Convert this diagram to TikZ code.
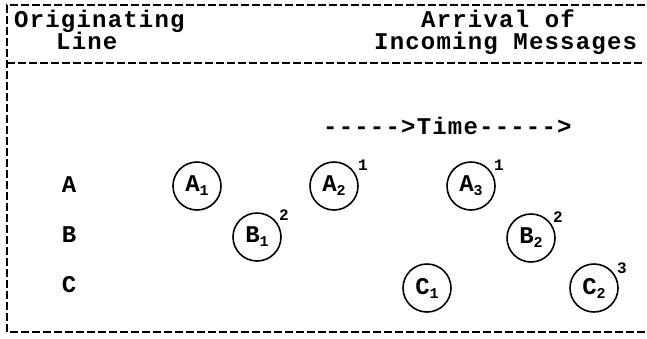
\documentclass[tikz,border=0pt]{standalone}
\usepackage{fontspec}
\setmonofont{Liberation Mono}[LetterSpace=5]
\newfontfamily\supfont{Liberation Mono}
\newcommand\msub[1]{\raisebox{-4pt}{\supfont\bfseries\fontsize{15}{15}\selectfont #1}}
\begin{document}
\begin{tikzpicture}[x=1pt,y=-1pt,
  font=\ttfamily\bfseries\fontsize{24}{24}\selectfont,
  frame/.style={line width=1.8pt, dash pattern=on 8pt off 3pt},
  msg/.style={circle, draw, line width=1.6pt, minimum size=48pt, inner sep=0pt},
  sup/.style={font=\supfont\bfseries\fontsize{16}{16}\selectfont, inner sep=0pt},
  txt/.style={inner sep=0pt, anchor=base west},
  lbl/.style={inner sep=0pt, anchor=base}]
\useasboundingbox (0,0) rectangle (647,338);
% frame
\draw[frame] (645,5) -- (7,5) -- (7,332) -- (645,332);
\draw[frame] (7,63) -- (645,63);
% header
\node[txt] (h1) at (14,27) {Originating};
\node[txt] (h2) at (56,49) {Line};
\node[txt] (h3) at (421,27) {Arrival of};
\node[txt] (h4) at (374,49) {Incoming Messages};
\node[txt] (time) at (323,134) {----->Time----->};
% row labels
\node[lbl] (la) at (69,192) {A};
\node[lbl] (lb) at (69,242) {B};
\node[lbl] (lc) at (69,292) {C};
% messages
\node[msg] (a1) at (197,186) {A\msub{1}};
\node[msg] (a2) at (334,186) {A\msub{2}};
\node[msg] (a3) at (471,186) {A\msub{3}};
\node[msg] (b1) at (257,237) {B\msub{1}};
\node[msg] (b2) at (531,238) {B\msub{2}};
\node[msg] (c1) at (427,288) {C\msub{1}};
\node[msg] (c2) at (594,288) {C\msub{2}};
% superscripts
\node[sup] (s1) at (363,165) {1};
\node[sup] (s2) at (499,165) {1};
\node[sup] (s3) at (284,215) {2};
\node[sup] (s4) at (558,217) {2};
\node[sup] (s5) at (622,268) {3};
\end{tikzpicture}
\end{document}
